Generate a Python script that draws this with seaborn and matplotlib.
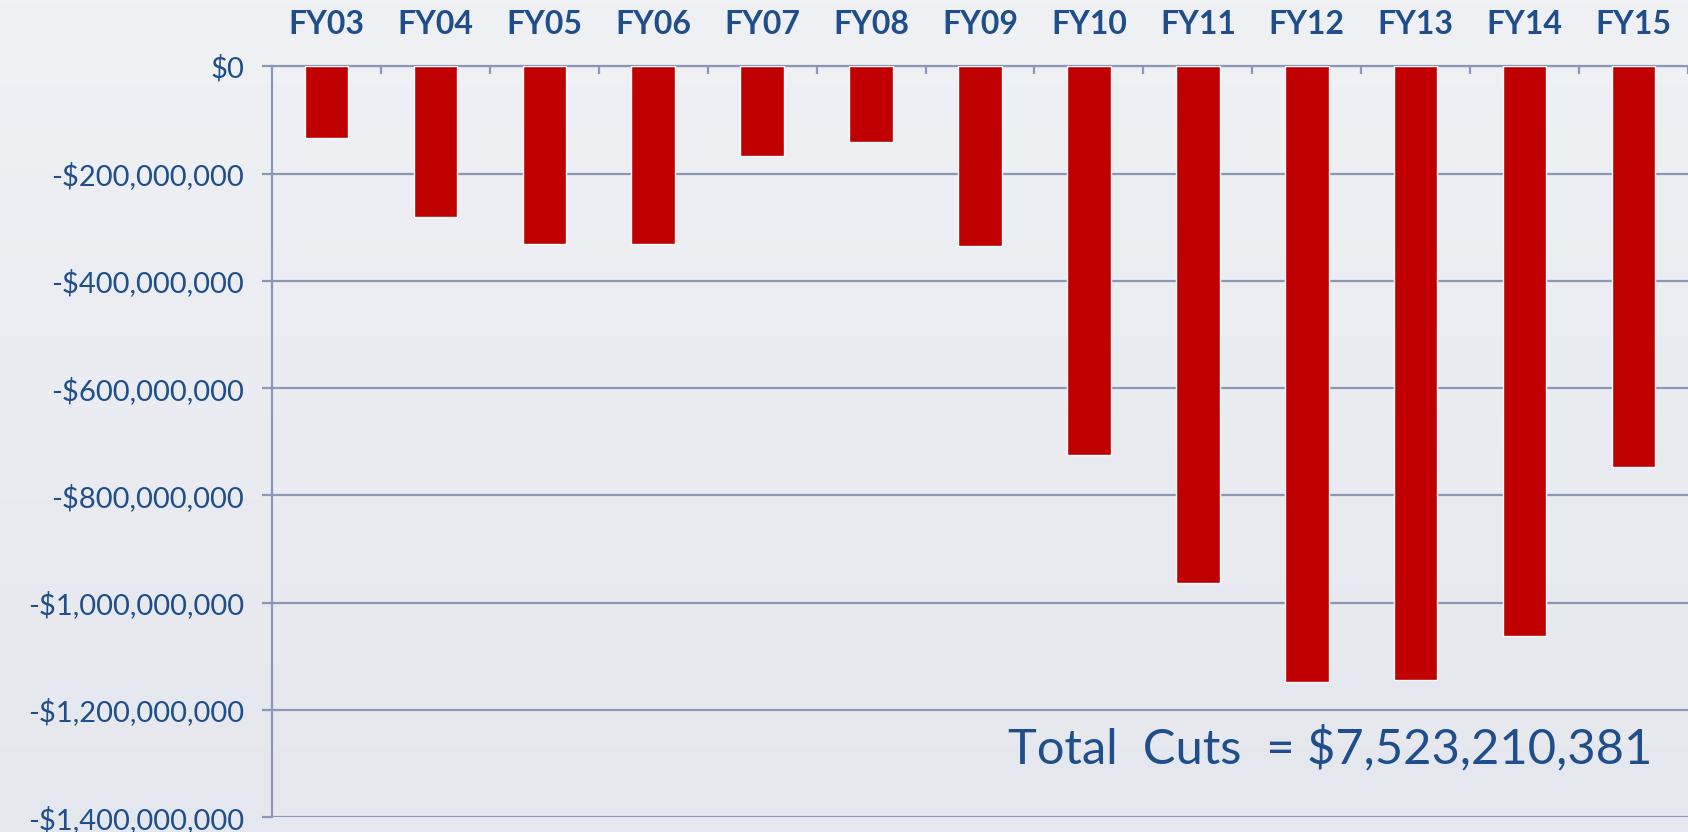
import matplotlib
matplotlib.use("Agg")
import matplotlib.pyplot as plt
import matplotlib.ticker as mticker
import seaborn as sns
import pandas as pd
import numpy as np

# ---- data ----
years = ["FY03", "FY04", "FY05", "FY06", "FY07", "FY08", "FY09",
         "FY10", "FY11", "FY12", "FY13", "FY14", "FY15"]
cuts = [-134e6, -282e6, -332e6, -332e6, -168e6, -142e6, -336e6,
        -725e6, -963e6, -1148e6, -1144e6, -1062e6, -747e6]
y_ticks = [0, -200e6, -400e6, -600e6, -800e6, -1000e6, -1200e6, -1400e6]
total_label = "Total  Cuts  = $7,523,210,381"

TEXT = "#1F4E8A"
GRID = "#8C97B3"
BAR = "#C00000"
BG = "#EBEDF2"

sns.set_theme(style="white")
plt.rcParams["font.family"] = ["Lato", "DejaVu Sans"]

fig = plt.figure(figsize=(16.88, 8.32), dpi=100, facecolor=BG)
ax = fig.add_axes([272/1688, 1-817.3/832, (1688-272)/1688, (817.3-66.2)/832])
ax.set_facecolor("none")

# subtle background gradient
grad = np.linspace(0, 1, 256).reshape(-1, 1)
bgax = fig.add_axes([0, 0, 1, 1], zorder=-10)
bgax.imshow(grad, aspect="auto", cmap=matplotlib.colors.LinearSegmentedColormap.from_list(
    "bg", ["#F0F1F5", "#E5E7EE"]), extent=[0, 1, 0, 1])
bgax.axis("off")

df = pd.DataFrame({"year": years, "cut": cuts})
sns.barplot(data=df, x="year", y="cut", color=BAR, saturation=1, width=0.4,
            ax=ax, zorder=3)

ax.set_ylim(-1400e6, 0)
ax.set_xlim(-0.5, 12.461)
ax.set_yticks(y_ticks)
ax.yaxis.set_major_formatter(mticker.FuncFormatter(
    lambda v, p: "$0" if v == 0 else f"-${abs(v):,.0f}"))
ax.yaxis.grid(True, color=GRID, linewidth=1.6, zorder=1)
ax.set_axisbelow(True)

ax.xaxis.tick_top()
ax.set_xlabel("")
ax.set_ylabel("")
ax.set_xticks(range(len(years)))
ax.set_xticklabels(years)
ax.set_xticks(np.arange(len(years)) + 0.5, minor=True)
ax.tick_params(axis="x", which="major", length=0, pad=19.5,
               labelsize=23, labelcolor=TEXT)
for t in ax.get_xticklabels():
    t.set_fontweight("bold")
ax.tick_params(axis="x", which="minor", direction="in", length=6,
               width=1.6, color=GRID, top=True, bottom=False)
ax.tick_params(axis="y", which="major", direction="out", length=7,
               width=1.6, color=GRID, pad=13, labelsize=21, labelcolor=TEXT,
               left=True)

for s in ["right", "bottom"]:
    ax.spines[s].set_visible(False)
for s in ["left", "top"]:
    ax.spines[s].set_color(GRID)
    ax.spines[s].set_linewidth(1.6)

fig.text(1008/1688, 1-763/832, total_label, fontsize=35.2, color=TEXT,
         ha="left", va="baseline")

fig.savefig("out.png", dpi=100, facecolor=BG)
